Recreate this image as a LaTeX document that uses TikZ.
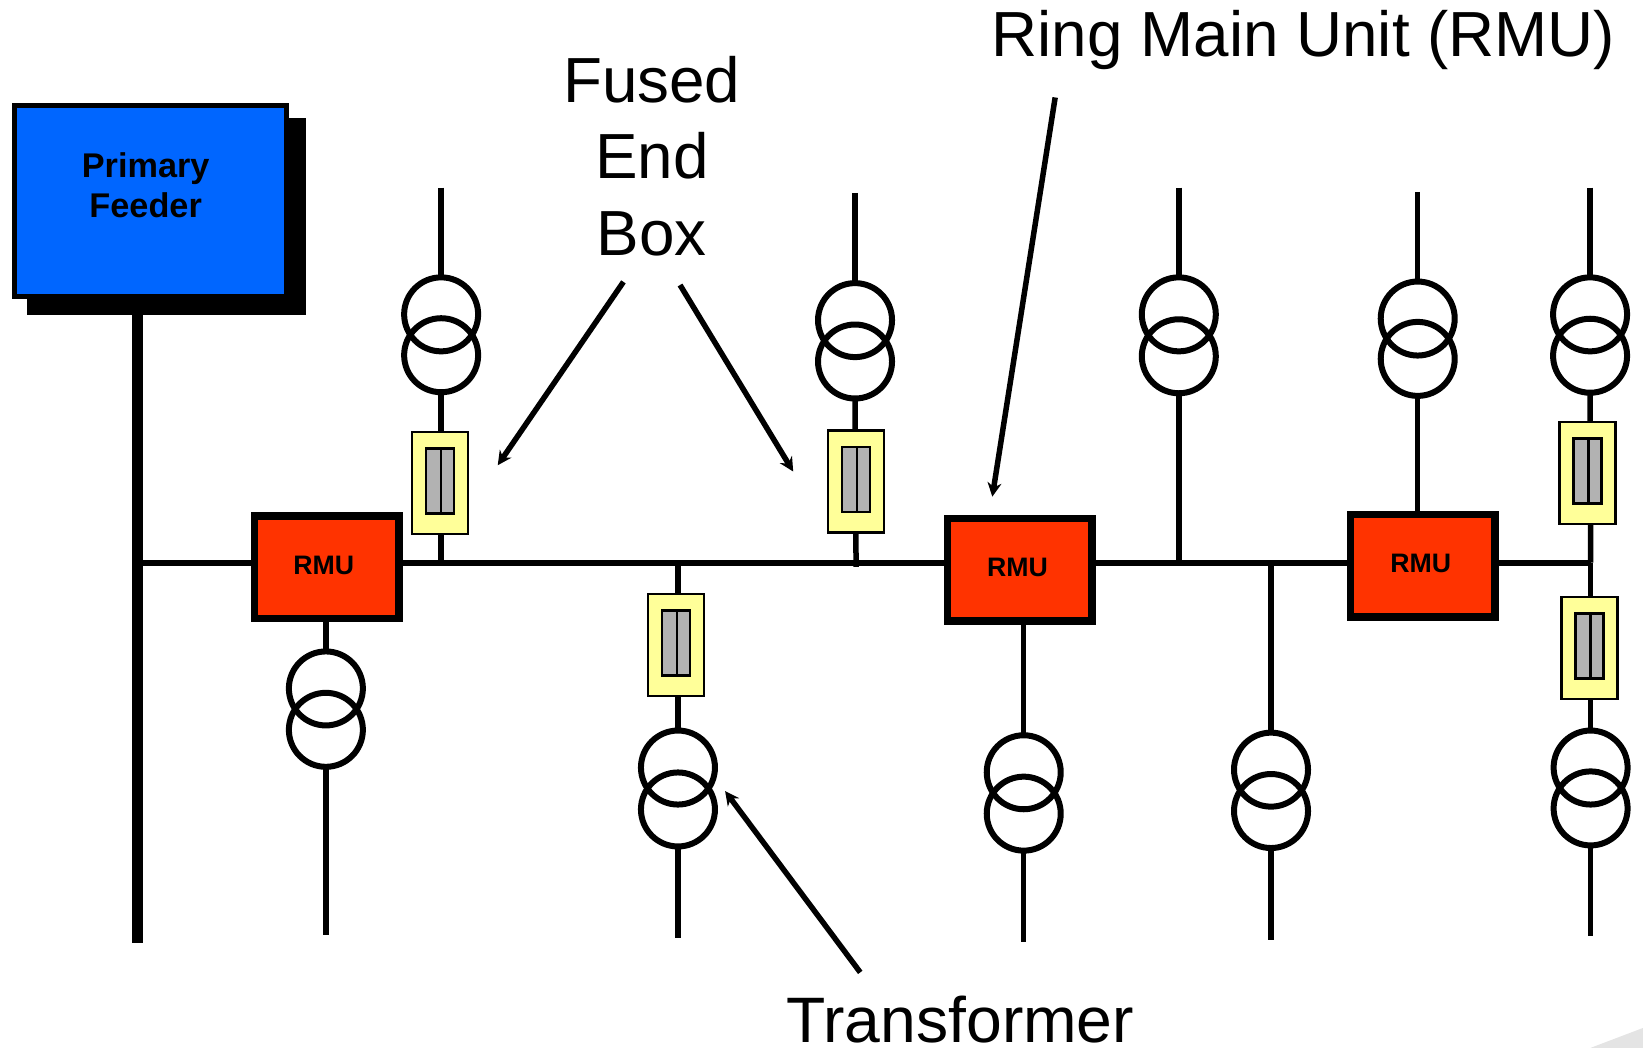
\documentclass[tikz,border=0pt]{standalone}
\usepackage{fontspec}
\setmainfont{Liberation Sans}
\usetikzlibrary{arrows.meta}
\definecolor{feederblue}{HTML}{0066FF}
\definecolor{rmured}{HTML}{FF3300}
\definecolor{fuseyellow}{HTML}{FFFF99}
\definecolor{fusegrey}{HTML}{B2B2B2}
\definecolor{cornergrey}{HTML}{E4E4E4}
\tikzset{
  wire/.style={line width=5.5bp,draw=black},
  busline/.style={line width=6.2bp,draw=black},
  mainbus/.style={line width=11bp,draw=black},
  coil/.style={circle,draw=black,line width=6bp,minimum size=74bp,inner sep=0pt,outer sep=0pt},
  rmubox/.style={draw=black,fill=rmured,line width=7.5bp,minimum width=144.5bp,minimum height=102.5bp,inner sep=0pt,outer sep=0pt},
  rmutext/.style={font=\bfseries\fontsize{26.8}{32}\selectfont,inner sep=0pt},
  fusebox/.style={draw=black,fill=fuseyellow,line width=2.4bp,minimum width=56bp,minimum height=102bp,inner sep=0pt,outer sep=0pt},
  fuseinner/.style={draw=black,fill=fusegrey,line width=2.4bp,minimum width=28bp,minimum height=65bp,inner sep=0pt,outer sep=0pt},
  callout/.style={line width=5.5bp,draw=black,-{Stealth[length=14bp,width=14bp]}},
  biglabel/.style={font=\fontsize{64}{77}\selectfont,align=center,inner sep=0pt},
}
% transformer: name, x, y of upper coil, y of lower coil
\newcommand{\xfmr}[4]{%
  \node[coil] (#1a) at (#2,#3) {};
  \node[coil] (#1b) at (#2,#4) {};
}
% fused end box: name, x, y
\newcommand{\fusedbox}[3]{%
  \node[fusebox] (#1) at (#2,#3) {};
  \node[fuseinner] (#1i) at (#2,#3-2) {};
  \draw[line width=2.4bp] ([xshift=1bp]#1i.north) -- ([xshift=1bp]#1i.south);
}
\begin{document}
\begin{tikzpicture}[x=1.04783bp,y=-1.04783bp]
\useasboundingbox (0,0) rectangle (1568,1000);
\fill[cornergrey] (1568,981) -- (1518,1000) -- (1568,1000) -- cycle;

% primary feeder
\fill[black] (26,113) rectangle (292,301);
\node[draw=black,fill=feederblue,line width=5bp,minimum width=272bp,minimum height=191bp,inner sep=0pt,outer sep=0pt] (feeder) at (143.5,192) {};
\node[align=center,font=\bfseries\fontsize{34.4}{40.5}\selectfont,inner sep=0pt] (feedertext) at (139,176.5) {Primary\\Feeder};
\coordinate (busTop) at (131,284);
\coordinate (busBot) at (131,900);
\draw[mainbus] (busTop) -- (busBot);

% ring bus junctions and free ends
\coordinate (j0) at (131,537);
\coordinate (j1) at (421,537);
\coordinate (j2) at (817,537);
\coordinate (j3) at (647,537);
\coordinate (j4) at (1125,537);
\coordinate (j5) at (1213,537);
\coordinate (j6) at (1518,537);
\draw[busline] (j0) -- (j6);
\coordinate (j2low) at (817,541);

% RMUs
\node[rmubox] (rmu1) at (312,541.5) {};
\node[rmubox] (rmu2) at (973,543.5) {};
\node[rmubox] (rmu3) at (1358,540) {};
\node[rmutext] (rmu1t) at (309,540) {RMU};
\node[rmutext] (rmu2t) at (971,542) {RMU};
\node[rmutext] (rmu3t) at (1356,538) {RMU};

% transformers
\xfmr{ta}{421}{300}{339}
\xfmr{tb}{816}{305.5}{345}
\xfmr{tc}{1125}{300}{340}
\xfmr{td}{1353}{304}{342.5}
\xfmr{te}{1517.5}{300}{339.5}
\xfmr{tf}{311}{657}{696.5}
\xfmr{tg}{647}{732.5}{772.5}
\xfmr{th}{977}{737}{776.5}
\xfmr{ti}{1213}{734.5}{774}
\xfmr{tj}{1518}{732.5}{771.5}

% free ends
\coordinate (ea) at (421,179);
\coordinate (eb) at (816,184);
\coordinate (ec) at (1125,179);
\coordinate (ed) at (1353,183);
\coordinate (ee) at (1517.5,179);
\coordinate (ef) at (311,892);
\coordinate (eg) at (647,895);
\coordinate (eh) at (977,899);
\coordinate (ei) at (1213,897);
\coordinate (ej) at (1518,893);

% connectors behind fuse boxes
\draw[wire] (ea) -- (taa.north);
\draw[wire] (eb) -- (tba.north);
\draw[wire] (ec) -- (tca.north);
\draw[wire] (ed) -- (tda.north);
\draw[wire] (ee) -- (tea.north);
\draw[wire] (tab.south) -- (j1);
\draw[wire] (tbb.south) -- (j2low);
\draw[wire] (tcb.south) -- (j4);
\draw[wire] (tdb.south) -- (tdb.south|-rmu3.north);
\draw[wire] (teb.south) -- (j6);
\draw[wire] (j6) -- (tja.north);
\draw[wire] (tfa.north|-rmu1.south) -- (tfa.north);
\draw[wire] (tfb.south) -- (ef);
\draw[wire] (j3) -- (tga.north);
\draw[wire] (tgb.south) -- (eg);
\draw[wire] (tha.north|-rmu2.south) -- (tha.north);
\draw[wire] (thb.south) -- (eh);
\draw[wire] (j5) -- (tia.north);
\draw[wire] (tib.south) -- (ei);
\draw[wire] (tjb.south) -- (ej);

% fused end boxes
\fusedbox{fa}{420}{461}
\fusedbox{fb}{817}{459.5}
\fusedbox{fc}{645}{615.5}
\fusedbox{fd}{1515}{451.5}
\fusedbox{fe}{1517}{618.5}

% labels
\node[biglabel] (lbl1) at (622,149) {Fused\\End\\Box};
\node[biglabel] (lbl2) at (1244,38) {Ring Main Unit (RMU)};
\node[biglabel,font=\fontsize{64.5}{77}\selectfont] (lbl3) at (916.5,973) {Transformer};

% callout arrows
\coordinate (a1s) at (595,269);
\coordinate (a1e) at (475,444);
\coordinate (a2s) at (649,272);
\coordinate (a2e) at (757,450);
\coordinate (a3s) at (1007,93);
\coordinate (a3e) at (947,474);
\coordinate (a4s) at (821,928);
\coordinate (a4e) at (692,755);
\draw[callout] (a1s) -- (a1e);
\draw[callout] (a2s) -- (a2e);
\draw[callout] (a3s) -- (a3e);
\draw[callout] (a4s) -- (a4e);
\end{tikzpicture}
\end{document}
